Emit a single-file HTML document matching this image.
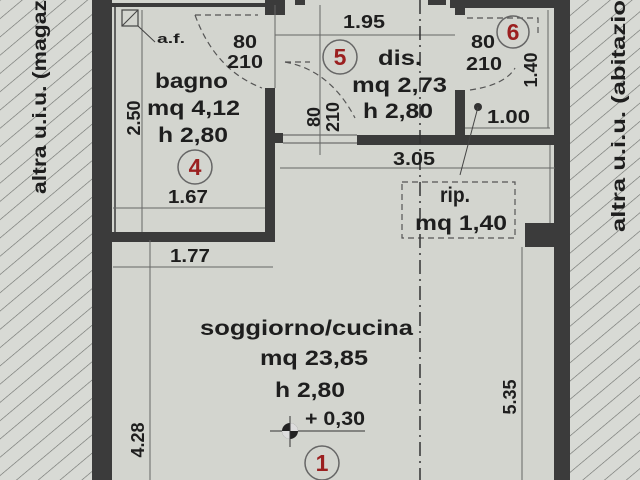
<!DOCTYPE html>
<html><head><meta charset="utf-8"><style>
html,body{margin:0;padding:0;background:#d5d7d2;}
svg{display:block}
text{font-family:"Liberation Sans",Arial,sans-serif;fill:#1e1e1e;font-weight:bold}
</style></head><body>
<svg width="640" height="480" viewBox="0 0 640 480" xmlns="http://www.w3.org/2000/svg">
<defs>
<pattern id="h" patternUnits="userSpaceOnUse" width="14" height="14" patternTransform="rotate(-40)">
<line x1="0" y1="0" x2="14" y2="0" stroke="#6b6e6a" stroke-width="1.2"/>
</pattern>
</defs>
<rect width="640" height="480" fill="#d5d7d2"/>
<rect x="0" y="0" width="93" height="480" fill="#d8dad5"/>
<rect x="0" y="0" width="93" height="480" fill="url(#h)"/>
<rect x="570" y="0" width="70" height="480" fill="#d8dad5"/>
<rect x="570" y="0" width="70" height="480" fill="url(#h)"/>
<rect x="110" y="0" width="445" height="480" fill="#d3d5cf"/>
<!-- outer walls -->
<rect x="92" y="0" width="20" height="480" fill="#3b3b3b"/>
<rect x="554" y="0" width="16" height="480" fill="#3b3b3b"/>
<!-- bathroom -->
<rect x="111" y="232" width="164" height="10" fill="#3b3b3b"/>
<rect x="265" y="88" width="10" height="154" fill="#3b3b3b"/>
<rect x="265" y="0" width="20" height="15" fill="#3b3b3b"/>
<rect x="112" y="3" width="153" height="4" fill="#3b3b3b"/>
<line x1="115" y1="6" x2="115" y2="232" stroke="#3b3b3b" stroke-width="1.5"/>
<rect x="273" y="133" width="10" height="10" fill="#3b3b3b"/>
<!-- dis walls -->
<rect x="357" y="135" width="198" height="10" fill="#3b3b3b"/>
<rect x="455" y="90" width="10" height="50" fill="#3b3b3b"/>
<rect x="450" y="0" width="105" height="8" fill="#3b3b3b"/>
<rect x="455" y="0" width="10" height="15" fill="#3b3b3b"/>
<rect x="295" y="0" width="10" height="5" fill="#3b3b3b"/>
<rect x="428" y="0" width="18" height="5" fill="#3b3b3b"/>
<rect x="525" y="223" width="30" height="24" fill="#3b3b3b"/>
<line x1="283" y1="135" x2="357" y2="135" stroke="#555" stroke-width="1"/>
<line x1="283" y1="143" x2="357" y2="143" stroke="#555" stroke-width="1"/>
<!-- thin inner lines -->
<g stroke="#666" stroke-width="1" fill="none">
<line x1="142" y1="10" x2="142" y2="232"/>
<line x1="113" y1="208" x2="265" y2="208"/>
<line x1="275" y1="35" x2="455" y2="35"/>
<line x1="275" y1="5" x2="275" y2="88"/>
<line x1="280" y1="168" x2="555" y2="168"/>
<line x1="113" y1="267" x2="273" y2="267"/>
<line x1="150" y1="240" x2="150" y2="480"/>
<line x1="522" y1="247" x2="522" y2="480"/>
<line x1="550" y1="145" x2="550" y2="223"/>
<line x1="465" y1="128" x2="550" y2="128"/>
<line x1="548" y1="10" x2="548" y2="128"/>
<line x1="320" y1="5" x2="320" y2="155"/>
</g>
<!-- dashed door swings -->
<g stroke="#555" stroke-width="1.2" fill="none" stroke-dasharray="6,4">
<path d="M195 15 L258 15"/>
<path d="M195 15 Q215 70 262 88"/>
<path d="M285 62 L310 62"/>
<path d="M285 62 Q330 70 355 118"/>
<path d="M467 18 L538 18 L538 35"/>
<path d="M470 90 Q505 85 515 68"/>
<rect x="402" y="182" width="113" height="56"/>
</g>
<line x1="420" y1="0" x2="420" y2="480" stroke="#333" stroke-width="1.5" stroke-dasharray="14,5,2,5"/>
<!-- a.f. box -->
<rect x="122" y="10" width="16" height="16" fill="none" stroke="#444" stroke-width="1.2"/>
<line x1="122" y1="26" x2="138" y2="10" stroke="#444"/>
<line x1="138" y1="26" x2="155" y2="42" stroke="#444"/>
<text x="157" y="43" font-size="13" textLength="28" lengthAdjust="spacingAndGlyphs">a.f.</text>
<!-- texts -->
<g font-size="18" lengthAdjust="spacingAndGlyphs">
<text x="233" y="48" textLength="24" lengthAdjust="spacingAndGlyphs">80</text>
<text x="227" y="68" textLength="36" lengthAdjust="spacingAndGlyphs">210</text>
<text x="155" y="88" font-size="21" textLength="73" lengthAdjust="spacingAndGlyphs">bagno</text>
<text x="147" y="115" font-size="21" textLength="93" lengthAdjust="spacingAndGlyphs">mq 4,12</text>
<text x="158" y="142" font-size="21" textLength="70" lengthAdjust="spacingAndGlyphs">h 2,80</text>
<text x="168" y="203" textLength="40" lengthAdjust="spacingAndGlyphs">1.67</text>
<text x="343" y="28" textLength="42" lengthAdjust="spacingAndGlyphs">1.95</text>
<text x="378" y="65" font-size="21" textLength="44" lengthAdjust="spacingAndGlyphs">dis.</text>
<text x="352" y="92" font-size="21" textLength="95" lengthAdjust="spacingAndGlyphs">mq 2,73</text>
<text x="363" y="118" font-size="21" textLength="70" lengthAdjust="spacingAndGlyphs">h 2,80</text>
<text x="471" y="48" textLength="24" lengthAdjust="spacingAndGlyphs">80</text>
<text x="466" y="70" textLength="36" lengthAdjust="spacingAndGlyphs">210</text>
<text x="487" y="123" textLength="43" lengthAdjust="spacingAndGlyphs">1.00</text>
<text x="393" y="165" textLength="42" lengthAdjust="spacingAndGlyphs">3.05</text>
<text x="440" y="202" font-size="21" textLength="30" lengthAdjust="spacingAndGlyphs">rip.</text>
<text x="415" y="230" font-size="21" textLength="92" lengthAdjust="spacingAndGlyphs">mq 1,40</text>
<text x="170" y="262" textLength="40" lengthAdjust="spacingAndGlyphs">1.77</text>
<text x="200" y="335" font-size="21" textLength="213" lengthAdjust="spacingAndGlyphs">soggiorno/cucina</text>
<text x="260" y="365" font-size="21" textLength="108" lengthAdjust="spacingAndGlyphs">mq 23,85</text>
<text x="275" y="397" font-size="21" textLength="70" lengthAdjust="spacingAndGlyphs">h 2,80</text>
<text x="305" y="425" font-size="19" textLength="60" lengthAdjust="spacingAndGlyphs">+ 0,30</text>
</g>
<g font-size="18" text-anchor="middle">
<text transform="translate(140,118) rotate(-90)">2.50</text>
<text transform="translate(320,117) rotate(-90)">80</text>
<text transform="translate(339,117) rotate(-90)">210</text>
<text transform="translate(537,70) rotate(-90)">1.40</text>
<text transform="translate(516,397) rotate(-90)">5.35</text>
<text transform="translate(144,440) rotate(-90)">4.28</text>
<text transform="translate(46,97) rotate(-90)" font-size="19" textLength="194" lengthAdjust="spacingAndGlyphs">altra u.i.u. (magaz</text>
<text transform="translate(625,116) rotate(-90)" font-size="19" textLength="232" lengthAdjust="spacingAndGlyphs">altra u.i.u. (abitazio</text>
</g>
<line x1="270" y1="431" x2="365" y2="431" stroke="#333"/>
<circle cx="290" cy="431" r="8" fill="#222"/>
<path d="M290 423 A8 8 0 0 1 298 431 L290 431Z M290 439 A8 8 0 0 1 282 431 L290 431Z" fill="#ddd"/>
<line x1="290" y1="416" x2="290" y2="447" stroke="#333"/>
<!-- circled numbers -->
<g fill="none" stroke="#666" stroke-width="1.5">
<circle cx="195" cy="167" r="17"/>
<circle cx="340" cy="57" r="17"/>
<circle cx="513" cy="32" r="16"/>
<circle cx="322" cy="463" r="17"/>
</g>
<g font-size="23" text-anchor="middle">
<text x="195" y="175" style="fill:#9b2020">4</text>
<text x="340" y="65" style="fill:#9b2020">5</text>
<text x="513" y="40" style="fill:#9b2020">6</text>
<text x="322" y="471" style="fill:#9b2020">1</text>
</g>
<circle cx="478" cy="107" r="4" fill="#333"/>
<line x1="478" y1="107" x2="460" y2="175" stroke="#444"/>
</svg>
</body></html>
